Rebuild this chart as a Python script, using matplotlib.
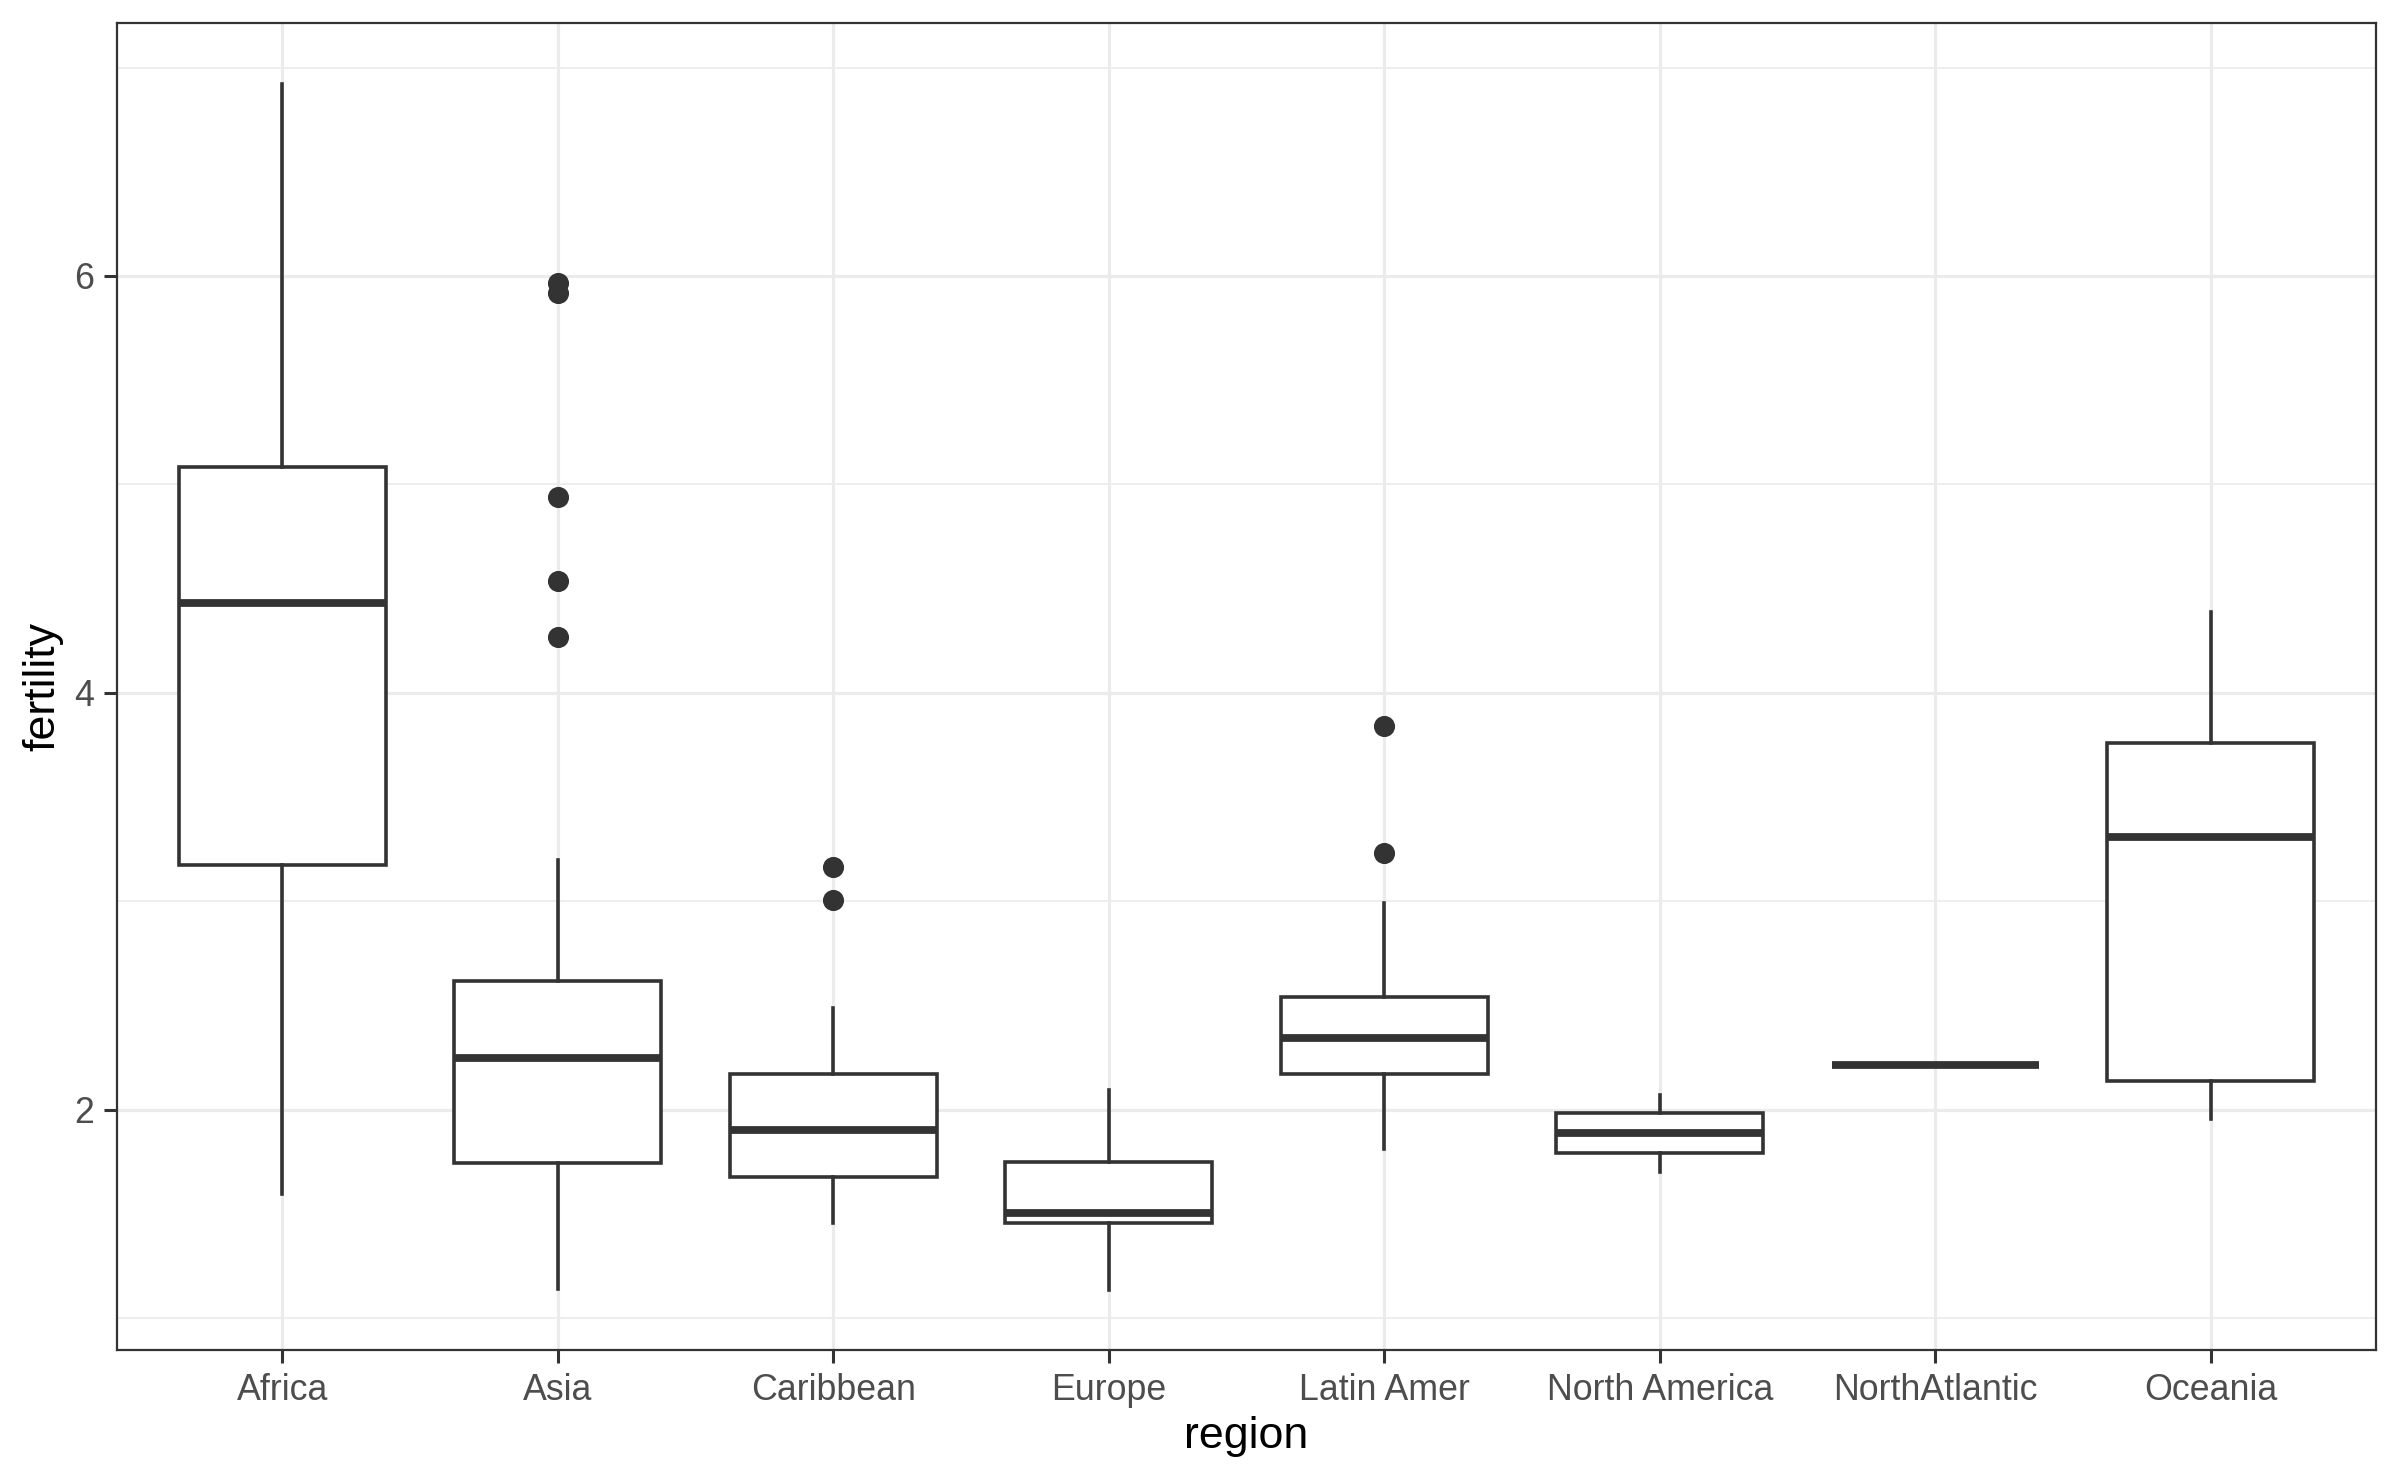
import matplotlib
matplotlib.use('Agg')
import matplotlib.pyplot as plt
from matplotlib.ticker import FixedLocator

# Data
regions = ['Africa', 'Asia', 'Caribbean', 'Europe', 'Latin Amer',
           'North America', 'NorthAtlantic', 'Oceania']
whislo = [1.596, 1.142, 1.457, 1.137, 1.810, 1.700, 2.216, 1.956]
q1 = [3.175, 1.743, 1.677, 1.457, 2.170, 1.795, 2.216, 2.140]
med = [4.430, 2.250, 1.905, 1.505, 2.345, 1.890, 2.216, 3.310]
q3 = [5.083, 2.616, 2.170, 1.748, 2.543, 1.985, 2.216, 3.760]
whishi = [6.923, 3.196, 2.490, 2.096, 2.990, 2.070, 2.216, 4.386]
outliers = [[],
            [5.965, 5.917, 4.940, 4.535, 4.269],
            [3.167, 3.005],
            [],
            [3.840, 3.233],
            [],
            [],
            []]

plt.rcParams['font.family'] = ['Liberation Sans', 'DejaVu Sans']

fig = plt.figure(figsize=(12, 7.415), dpi=200)
ax = fig.add_axes([0.04875, 0.0897, 0.99 - 0.04875, 0.9843 - 0.0897])

stats = []
for i in range(len(regions)):
    stats.append({'label': regions[i], 'whislo': whislo[i], 'q1': q1[i],
                  'med': med[i], 'q3': q3[i], 'whishi': whishi[i],
                  'fliers': outliers[i]})

dark = '#333333'
ax.bxp(stats, positions=range(1, len(regions) + 1), widths=0.75,
       showcaps=False, patch_artist=True,
       boxprops=dict(facecolor='white', edgecolor=dark, linewidth=1.3),
       whiskerprops=dict(color=dark, linewidth=1.3),
       medianprops=dict(color=dark, linewidth=2.8, solid_capstyle='butt'),
       flierprops=dict(marker='o', markerfacecolor=dark, markeredgecolor=dark,
                       markersize=6.6, linestyle='none'),
       zorder=3)

ax.set_xlim(0.4, 8.6)
lo = min(min(whislo), min(min(o) for o in outliers if o))
hi = max(max(whishi), max(max(o) for o in outliers if o))
pad = (hi - lo) * 0.05
ax.set_ylim(lo - pad, hi + pad)

ax.set_xticks(range(1, len(regions) + 1))
ax.set_xticklabels(regions)
ax.set_yticks([2, 4, 6])
ax.yaxis.set_minor_locator(FixedLocator([1, 3, 5, 7]))

ax.set_axisbelow(True)
ax.grid(True, which='major', color='#EBEBEB', linewidth=1.15)
ax.grid(True, which='minor', axis='y', color='#EBEBEB', linewidth=0.6)

for s in ax.spines.values():
    s.set_color(dark)
    s.set_linewidth(0.8)

ax.tick_params(axis='both', which='major', length=4.6, width=1.1, color=dark,
               labelsize=12.9, labelcolor='#4D4D4D', pad=3.6)
ax.tick_params(axis='y', which='minor', length=0)

ax.set_xlabel('region', fontsize=16.1, color='black', labelpad=3)
ax.set_ylabel('fertility', fontsize=16.1, color='black', labelpad=4)

fig.savefig('out.png', dpi=200, facecolor='white')
